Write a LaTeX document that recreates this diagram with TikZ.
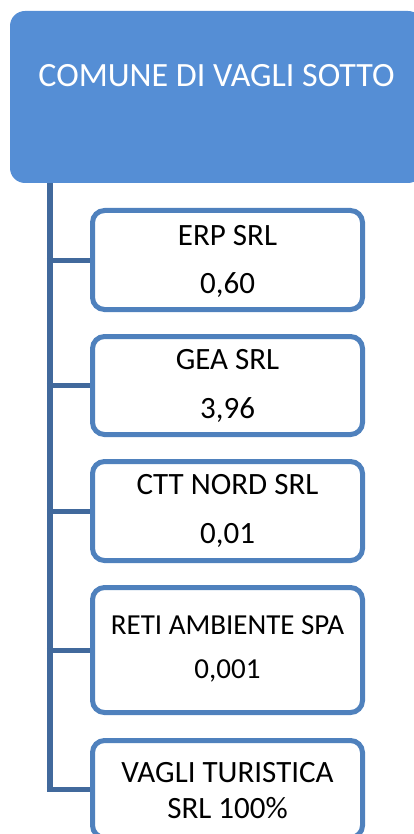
\documentclass[tikz,border=0pt]{standalone}
\usepackage{fontspec}
\setmainfont{Carlito}
\definecolor{topblue}{HTML}{558ED5}
\definecolor{boxblue}{HTML}{4F81BD}
\definecolor{linkblue}{HTML}{41699C}
\begin{document}
\begin{tikzpicture}[x=1pt,y=-1pt,
  topbox/.style={fill=topblue, rounded corners=15pt, minimum width=413pt, minimum height=172pt, inner sep=0pt},
  toptext/.style={anchor=base, text=white, font=\fontsize{34}{40}\selectfont, inner sep=0pt},
  entity/.style={draw=boxblue, line width=5pt, fill=white, rounded corners=12pt, minimum width=270pt, inner sep=0pt},
  etext/.style={anchor=base, text=black, font=\fontsize{31}{38}\selectfont, inner sep=0pt},
  stext/.style={anchor=base, text=black, font=\fontsize{29}{35}\selectfont, inner sep=0pt},
  link/.style={draw=linkblue, line width=5pt},
  trunkline/.style={draw=linkblue, line width=6pt}
]
\useasboundingbox (0,0) rectangle (414,834);
\clip (0,0) rectangle (414,834);

\node[topbox] (top) at (216.5,97) {};
\node[toptext] (toplabel) at (216.5,87) {COMUNE DI VAGLI SOTTO};

\node[entity, minimum height=99pt] (erp) at (227.5,260) {};
\node[etext] (erp1) at (227.5,245) {ERP SRL};
\node[etext] (erp2) at (227.5,293) {0,60};

\node[entity, minimum height=98pt] (gea) at (227.5,385.5) {};
\node[etext] (gea1) at (227.5,369) {GEA SRL};
\node[etext] (gea2) at (227.5,418) {3,96};

\node[entity, minimum height=99pt] (ctt) at (227.5,511) {};
\node[etext] (ctt1) at (227.5,494) {CTT NORD SRL};
\node[etext] (ctt2) at (227.5,543) {0,01};

\node[entity, minimum height=125pt] (reti) at (227.5,650) {};
\node[stext] (reti1) at (227.5,634) {RETI AMBIENTE SPA};
\node[stext] (reti2) at (227.5,678) {0,001};

\node[entity, minimum height=97pt] (vagli) at (227.5,789) {};
\node[etext] (vagli1) at (227.5,782) {VAGLI TURISTICA};
\node[etext] (vagli2) at (227.5,818) {SRL 100\%};

\coordinate (trunk) at ([xshift=40pt]top.south west);
\draw[trunkline] (trunk) -- (trunk |- vagli.west);
\foreach \b in {erp,gea,ctt,reti,vagli}
  \draw[link] ([xshift=-3pt]trunk |- \b.west) -- (\b.west);
\end{tikzpicture}
\end{document}
